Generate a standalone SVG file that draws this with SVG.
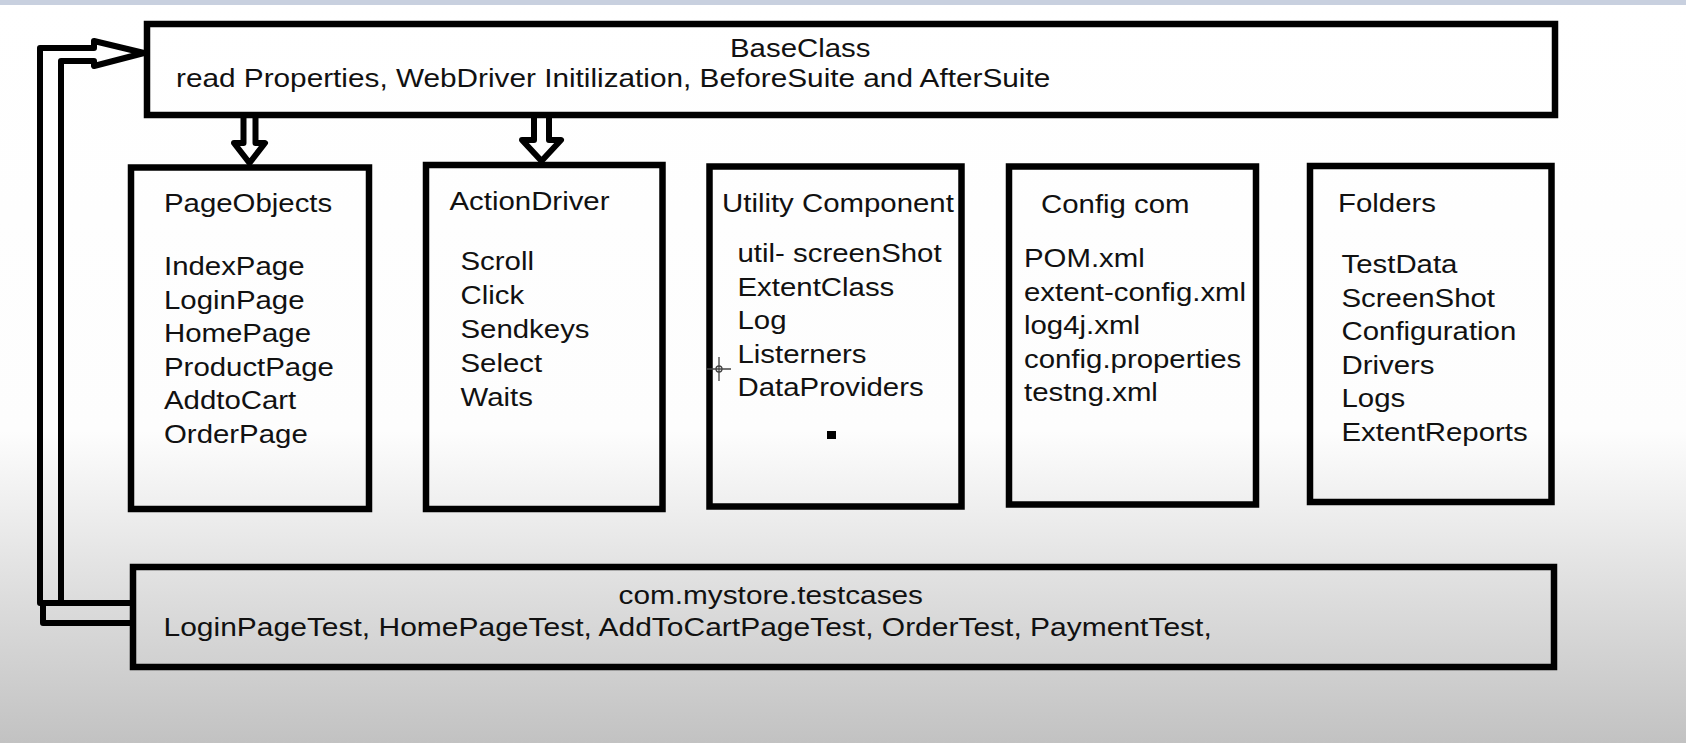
<svg xmlns="http://www.w3.org/2000/svg" width="1686" height="743" viewBox="0 0 1686 743">
<defs>
<linearGradient id="bg" x1="0" y1="0" x2="0" y2="743" gradientUnits="userSpaceOnUse">
<stop offset="0" stop-color="#ffffff"/>
<stop offset="0.58" stop-color="#fdfdfd"/>
<stop offset="0.7" stop-color="#ececec"/>
<stop offset="0.81" stop-color="#dcdcdc"/>
<stop offset="0.92" stop-color="#cdcdcd"/>
<stop offset="1" stop-color="#c2c2c2"/>
</linearGradient>
<style>
.box{fill:none;stroke:#000;stroke-width:6.5}
.conn{fill:none;stroke:#000;stroke-width:6;stroke-linejoin:round}
text{font-family:"Liberation Sans",Arial,sans-serif;font-size:25.5px;fill:#111}
</style>
</defs>
<rect width="1686" height="743" fill="url(#bg)"/>
<rect width="1686" height="5" fill="#c8d0df"/>

<g id="connectors">
<path class="conn" d="M133 603 H40 V48 H94 V41 L144 53 L94 66 V61 H61 V603"/>
<path class="conn" d="M43 603 V623 H133"/>
<path class="conn" d="M243.5 118 V143 H234 L249.5 163 L265 143 H255.5 V118"/>
<path class="conn" d="M534 118 V140 H522 L541.5 161 L561 140 H549 V118"/>
</g>

<g id="node-baseclass">
<rect class="box" x="147" y="24" width="1408" height="91"/>
<text transform="translate(730 57) scale(1.153 1)">BaseClass</text>
<text transform="translate(176 86.5) scale(1.167 1)">read Properties, WebDriver Initilization, BeforeSuite and AfterSuite</text>
</g>

<g id="node-pageobjects">
<rect class="box" x="131" y="167.5" width="238" height="341.5"/>
<text transform="translate(164 212) scale(1.153 1)">PageObjects</text>
<text transform="translate(164 275) scale(1.153 1)">IndexPage</text>
<text transform="translate(164 308.6) scale(1.153 1)">LoginPage</text>
<text transform="translate(164 342.2) scale(1.153 1)">HomePage</text>
<text transform="translate(164 375.8) scale(1.153 1)">ProductPage</text>
<text transform="translate(164 409.4) scale(1.153 1)">AddtoCart</text>
<text transform="translate(164 443) scale(1.153 1)">OrderPage</text>
</g>

<g id="node-actiondriver">
<rect class="box" x="426" y="165" width="236.5" height="344"/>
<text transform="translate(449.5 209.5) scale(1.153 1)">ActionDriver</text>
<text transform="translate(460.5 269.5) scale(1.153 1)">Scroll</text>
<text transform="translate(460.5 303.5) scale(1.153 1)">Click</text>
<text transform="translate(460.5 337.5) scale(1.153 1)">Sendkeys</text>
<text transform="translate(460.5 371.5) scale(1.153 1)">Select</text>
<text transform="translate(460.5 405.5) scale(1.153 1)">Waits</text>
</g>

<g id="node-utility">
<rect class="box" x="709.5" y="166.5" width="252" height="340"/>
<text transform="translate(722 212) scale(1.153 1)">Utility Component</text>
<text transform="translate(737.5 262) scale(1.153 1)">util- screenShot</text>
<text transform="translate(737.5 295.5) scale(1.153 1)">ExtentClass</text>
<text transform="translate(737.5 329) scale(1.153 1)">Log</text>
<text transform="translate(737.5 362.5) scale(1.153 1)">Listerners</text>
<text transform="translate(737.5 396) scale(1.153 1)">DataProviders</text>
<rect x="827" y="431" width="9" height="8" fill="#000"/>
</g>

<g id="node-config">
<rect class="box" x="1009" y="166.5" width="247" height="338"/>
<text transform="translate(1041 213) scale(1.153 1)">Config com</text>
<text transform="translate(1024 267) scale(1.153 1)">POM.xml</text>
<text transform="translate(1024 300.6) scale(1.153 1)">extent-config.xml</text>
<text transform="translate(1024 334.2) scale(1.153 1)">log4j.xml</text>
<text transform="translate(1024 367.8) scale(1.153 1)">config.properties</text>
<text transform="translate(1024 401.4) scale(1.153 1)">testng.xml</text>
</g>

<g id="node-folders">
<rect class="box" x="1310" y="166" width="241.5" height="336"/>
<text transform="translate(1338 212) scale(1.153 1)">Folders</text>
<text transform="translate(1341.5 273) scale(1.153 1)">TestData</text>
<text transform="translate(1341.5 306.6) scale(1.153 1)">ScreenShot</text>
<text transform="translate(1341.5 340.2) scale(1.153 1)">Configuration</text>
<text transform="translate(1341.5 373.8) scale(1.153 1)">Drivers</text>
<text transform="translate(1341.5 407.4) scale(1.153 1)">Logs</text>
<text transform="translate(1341.5 441) scale(1.153 1)">ExtentReports</text>
</g>

<g id="node-testcases">
<rect class="box" x="133" y="567" width="1421" height="100"/>
<text transform="translate(618.5 604) scale(1.168 1)">com.mystore.testcases</text>
<text transform="translate(163.5 636) scale(1.176 1)">LoginPageTest, HomePageTest, AddToCartPageTest, OrderTest, PaymentTest,</text>
</g>

<g id="cursor" fill="none" stroke="#444" stroke-width="1.3">
<path d="M707 369 H731 M719 357 V381"/>
<circle cx="719" cy="369" r="3"/>
</g>
</svg>
